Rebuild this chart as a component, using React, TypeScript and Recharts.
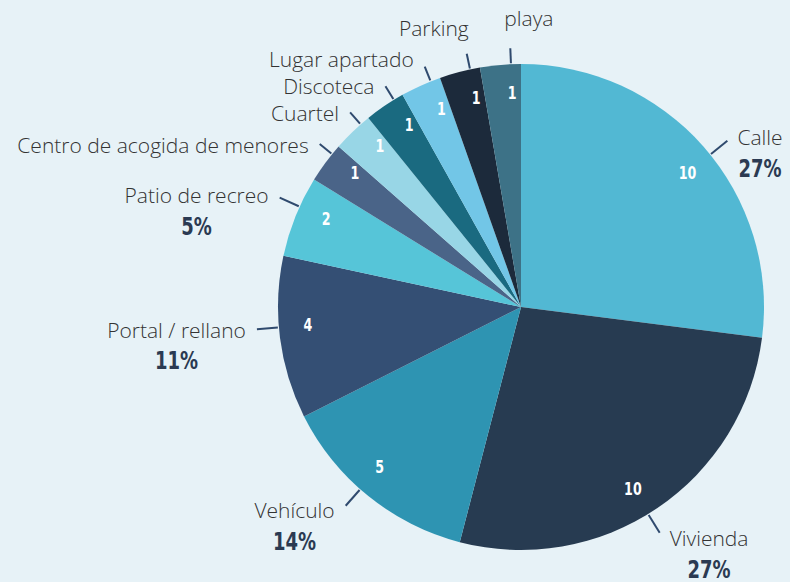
import React from "react";
import { PieChart, Pie, Cell } from "recharts";

const names = [
  "Calle",
  "Vivienda",
  "Vehículo",
  "Portal / rellano",
  "Patio de recreo",
  "Centro de acogida de menores",
  "Cuartel",
  "Discoteca",
  "Lugar apartado",
  "Parking",
  "playa",
];
const values = [10, 10, 5, 4, 2, 1, 1, 1, 1, 1, 1];
const colors = [
  "#52b8d3",
  "#273b51",
  "#2e94b2",
  "#344f74",
  "#56c5d8",
  "#4a6488",
  "#98d6e6",
  "#1a6a80",
  "#72c6e7",
  "#1c2a3b",
  "#3d7287",
];

const data = names.map((n, i) => ({ name: n, value: values[i] }));

const CX = 521;
const CY = 307;
const R = 243;
const ANGLE_SHIFT = -2.5; // label placement rotated slightly clockwise
const NAME_FONT = "'Open Sans', sans-serif";
const NAME_SIZE = 21;
const NUM_FONT = "'DejaVu Sans Condensed', 'DejaVu Sans', sans-serif";
const RAD = Math.PI / 180;

let ctx: CanvasRenderingContext2D | null = null;
function measure(text: string): number {
  if (!ctx) {
    const c = document.createElement("canvas");
    ctx = c.getContext("2d");
  }
  if (!ctx) return text.length * NAME_SIZE * 0.5;
  ctx.font = `300 ${NAME_SIZE}px 'Open Sans'`;
  return ctx.measureText(text).width;
}

type LabelPos = {
  sx: number; sy: number; ex: number; ey: number;
  tx: number; ty: number; anchor: "start" | "end"; big: boolean;
  ix: number; iy: number;
};

function computeLayout(): LabelPos[] {
  const total = values.reduce((a, b) => a + b, 0);
  let acc = 0;
  const out: LabelPos[] = [];
  values.forEach((v) => {
    const mid = 90 - ((acc + v / 2) / total) * 360 + ANGLE_SHIFT;
    acc += v;
    const c = Math.cos(mid * RAD);
    const s = Math.sin(mid * RAD);
    const big = v / total >= 0.04;
    const L = big ? 22 : 16;
    const sx = CX + (R + 1) * c;
    const sy = CY - (R + 1) * s;
    const ex = CX + (R + L) * c;
    const ey = CY - (R + L) * s;
    const ix = CX + R * 0.88 * c;
    const iy = CY - R * 0.88 * s;
    let anchor: "start" | "end";
    let tx: number;
    let ty: number;
    if (Math.abs(c) < 0.3) {
      anchor = c < -0.15 ? "end" : "start";
      tx = ex + (anchor === "end" ? 2 : -6);
      ty = ey - (anchor === "end" ? 26 : 30);
    } else {
      anchor = c > 0 ? "start" : "end";
      tx = ex + (c > 0 ? 10 : -11);
      ty = big ? ey - 6 * s : ey + 1;
    }
    out.push({ sx, sy, ex, ey, tx, ty, anchor, big, ix, iy });
  });
  // upper-left cluster: keep labels apart going upward
  for (let i = 1; i < out.length; i++) {
    const p = out[i - 1];
    const q = out[i];
    if (!q.big && q.anchor === "end" && p.anchor === "end" && Math.abs(q.ex - CX) > 0.3 * R) {
      if (q.ty > p.ty - 27) q.ty = p.ty - 27;
    }
  }
  return out;
}
const layout = computeLayout();

function renderLabel(props: any) {
  const { percent, value, name, index } = props;
  const p = layout[index];
  const w = measure(String(name));
  const pcx = p.anchor === "start" ? p.tx + w / 2 : p.tx - w / 2;

  return (
    <g>
      <line x1={p.sx} y1={p.sy} x2={p.ex} y2={p.ey} stroke="#2f4a6e" strokeWidth={2} />
      <text
        x={p.tx}
        y={p.ty}
        textAnchor={p.anchor}
        dominantBaseline="central"
        fontFamily={NAME_FONT}
        fontWeight={300}
        fontSize={NAME_SIZE}
        fill="#333333"
      >
        {name}
      </text>
      {p.big && (
        <text
          transform={`translate(${pcx},${p.ty + 31}) scale(0.8,1)`}
          x={0}
          y={0}
          textAnchor="middle"
          dominantBaseline="central"
          fontFamily={NUM_FONT}
          fontWeight={700}
          fontSize={25}
          fill="#2b3a52"
        >
          {`${Math.round(percent * 100)}%`}
        </text>
      )}
      <text
        transform={`translate(${p.ix},${p.iy}) scale(0.78,1)`}
        x={0}
        y={0}
        textAnchor="middle"
        dominantBaseline="central"
        fontFamily={NUM_FONT}
        fontWeight={700}
        fontSize={18}
        fill="#ffffff"
      >
        {value}
      </text>
    </g>
  );
}

export default function App() {
  return (
    <div
      style={{
        position: "absolute",
        left: 0,
        top: 0,
        width: 790,
        height: 582,
        background: "#e7f2f7",
      }}
    >
      <PieChart width={790} height={582} margin={{ top: 0, right: 0, bottom: 0, left: 0 }}>
        <Pie
          data={data}
          dataKey="value"
          nameKey="name"
          cx={CX}
          cy={CY}
          outerRadius={R}
          innerRadius={0}
          startAngle={90}
          endAngle={-270}
          stroke="none"
          label={renderLabel}
          labelLine={false}
          isAnimationActive={false}
        >
          {data.map((d, i) => (
            <Cell key={d.name} fill={colors[i]} stroke="none" />
          ))}
        </Pie>
      </PieChart>
    </div>
  );
}
